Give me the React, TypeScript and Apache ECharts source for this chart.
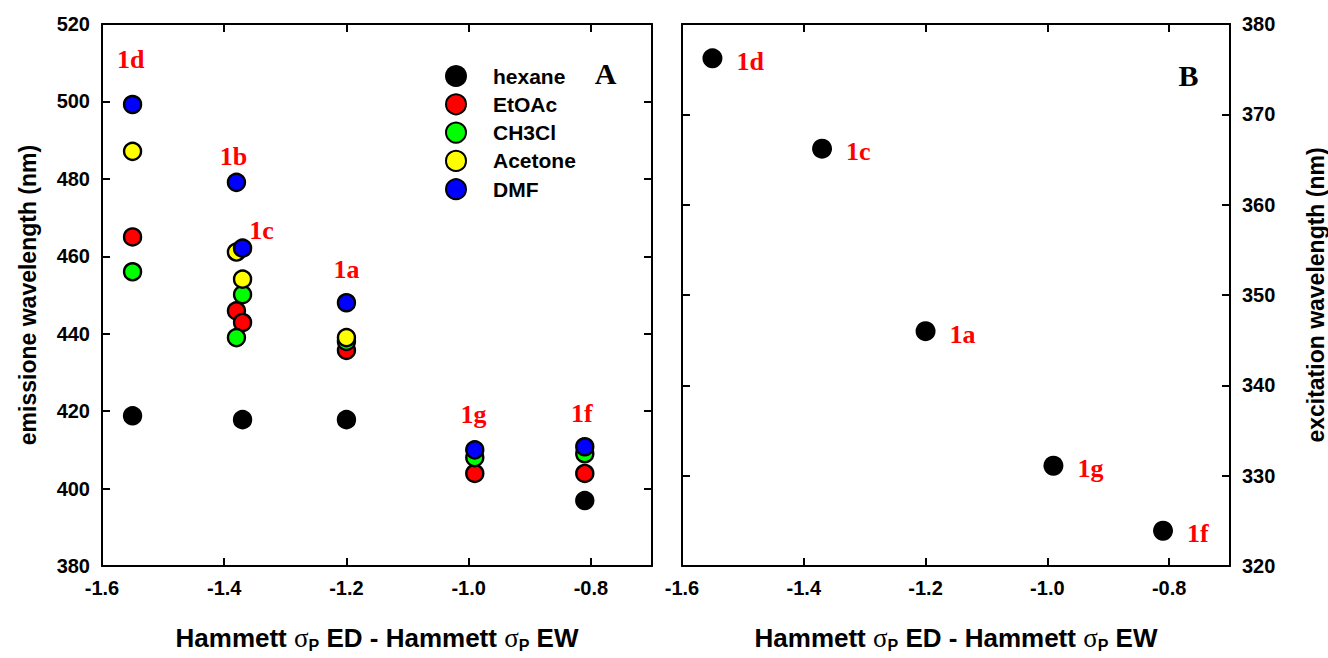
import React, { useEffect, useRef } from "react";
import * as echarts from "echarts";

// ---------- data ----------
const solventNames = ["hexane", "EtOAc", "CH3Cl", "Acetone", "DMF"];
const solventColors = ["#000000", "#ff0000", "#00ff00", "#ffff00", "#0000ff"];

// [Hammett difference, emission wavelength (nm)]
const hexane = [[-1.55, 418.8], [-1.37, 417.8], [-1.2, 417.8], [-0.81, 396.9]];
const etoac = [[-1.55, 465.0], [-1.38, 445.9], [-1.37, 442.9], [-1.2, 435.7], [-0.99, 403.9], [-0.81, 403.9]];
const ch3cl = [[-1.55, 456.0], [-1.38, 439.0], [-1.37, 450.1], [-1.2, 438.0], [-0.99, 408.0], [-0.81, 409.0]];
const acetone = [[-1.55, 487.1], [-1.38, 461.1], [-1.37, 454.1], [-1.2, 439.0]];
const dmf = [[-1.55, 499.2], [-1.38, 479.1], [-1.37, 462.1], [-1.2, 448.0], [-0.99, 410.0], [-0.81, 410.8]];
const emissionSeries = [hexane, etoac, ch3cl, acetone, dmf];

const compoundLabelsA = ["1d", "1b", "1c", "1a", "1g", "1f"];
const compoundLabelXA = [-1.553, -1.385, -1.339, -1.2, -0.992, -0.815];
const compoundLabelYA = [510.8, 485.9, 466.6, 456.5, 419.1, 419.3];

const excitationLabels = ["1d", "1c", "1a", "1g", "1f"];
const excitationX = [-1.55, -1.37, -1.2, -0.99, -0.81];
const excitationY = [376.2, 366.2, 346.0, 331.1, 323.9];

const xMin = -1.6, xMax = -0.7, xStep = 0.2;
const yAMin = 380, yAMax = 520, yAStep = 20;
const yBMin = 320, yBMax = 380, yBStep = 10;

const panelLetters = ["A", "B"];
const panelLetterPos = [[-0.776, 507.2], [-0.768, 374.3]];

const xTitle = "Hammett {s|σ}{p|P} ED - Hammett {s|σ}{p|P} EW";
const yTitleA = "emissione wavelength (nm)";
const yTitleB = "excitation wavelength (nm)";

// ---------- styles ----------
const SANS = "Liberation Sans, Arial, sans-serif";
const SERIF = "Liberation Serif, Times New Roman, serif";

const lineStyle = { color: "#000", width: 2 };
const tickStyle = { show: true, inside: true, length: 8, lineStyle: { color: "#000", width: 2 } };
const labelStyle = { color: "#000", fontSize: 20, fontWeight: "bold", fontFamily: SANS };

const xNameStyle = {
  color: "#000",
  fontSize: 26,
  fontWeight: "bold",
  fontFamily: SANS,
  rich: {
    s: { fontSize: 27, fontWeight: "normal", fontFamily: SERIF, color: "#000" },
    p: { fontSize: 16, fontWeight: "bold", fontFamily: SANS, color: "#000", padding: [15, 0, 0, 0] },
  },
};

function xAxisDef(gridIndex: number, position: "bottom" | "top", showLabel: boolean) {
  return {
    type: "value",
    gridIndex,
    position,
    min: xMin,
    max: xMax,
    interval: xStep,
    splitLine: { show: false },
    axisLine: { show: true, onZero: false, lineStyle },
    axisTick: tickStyle,
    axisLabel: {
      show: showLabel,
      margin: 12,
      showMaxLabel: false,
      formatter: (v: number) => v.toFixed(1),
      ...labelStyle,
    },
    name: showLabel ? xTitle : "",
    nameLocation: "middle",
    nameGap: 56,
    nameTextStyle: xNameStyle,
  };
}

function yAxisDef(
  gridIndex: number,
  position: "left" | "right",
  showLabel: boolean,
  min: number,
  max: number,
  step: number,
  title: string,
  nameGap: number
) {
  return {
    type: "value",
    gridIndex,
    position,
    min,
    max,
    interval: step,
    splitLine: { show: false },
    axisLine: { show: true, onZero: false, lineStyle },
    axisTick: tickStyle,
    axisLabel: { show: showLabel, margin: 12, ...labelStyle },
    name: showLabel ? title : "",
    nameLocation: "middle",
    nameRotate: 90,
    nameGap,
    nameTextStyle: { color: "#000", fontSize: 23, fontWeight: "bold", fontFamily: SANS },
  };
}

export default function App() {
  const ref = useRef<HTMLDivElement>(null);

  useEffect(() => {
    document.body.style.margin = "0";
    if (!ref.current) return;
    const chart = echarts.init(ref.current, null, { renderer: "svg" });

    const emission = emissionSeries.map((data, i) => ({
      type: "scatter",
      name: solventNames[i],
      xAxisIndex: 0,
      yAxisIndex: 0,
      data,
      symbol: "circle",
      symbolSize: 17,
      itemStyle: { color: solventColors[i], borderColor: "#000", borderWidth: 2.4, opacity: 1 },
      emphasis: { disabled: true },
      z: 2 + i,
    }));

    const redLabel = {
      color: "#ff0000",
      fontSize: 26,
      fontWeight: "bold",
      fontFamily: SERIF,
    };

    const labelSeriesA = {
      type: "scatter",
      xAxisIndex: 0,
      yAxisIndex: 0,
      symbolSize: 0,
      silent: true,
      itemStyle: { opacity: 1 },
      data: compoundLabelsA.map((n, i) => ({ name: n, value: [compoundLabelXA[i], compoundLabelYA[i]] })),
      label: {
        show: true,
        position: "inside",
        formatter: (p: any) => p.name,
        ...redLabel,
      },
      z: 10,
    };

    const excitation = {
      type: "scatter",
      xAxisIndex: 2,
      yAxisIndex: 2,
      symbol: "circle",
      symbolSize: 20,
      itemStyle: { color: "#000", opacity: 1 },
      emphasis: { disabled: true },
      data: excitationX.map((x, i) => ({ name: excitationLabels[i], value: [x, excitationY[i]] })),
      label: {
        show: true,
        position: "right",
        distance: 14,
        offset: [0, 3],
        formatter: (p: any) => p.name,
        ...redLabel,
      },
    };

    const letters = panelLetters.map((l, i) => ({
      type: "scatter",
      xAxisIndex: i === 0 ? 0 : 2,
      yAxisIndex: i === 0 ? 0 : 2,
      symbolSize: 0,
      silent: true,
      itemStyle: { opacity: 1 },
      data: [{ name: l, value: panelLetterPos[i] }],
      label: {
        show: true,
        position: "inside",
        formatter: (p: any) => p.name,
        color: "#000",
        fontSize: 30,
        fontWeight: "bold",
        fontFamily: SERIF,
      },
    }));

    chart.setOption({
      animation: false,
      backgroundColor: "#fff",
      grid: [
        { left: 102, right: 1328 - 652, top: 24, bottom: 658 - 569 },
        { left: 682, right: 1328 - 1230, top: 24, bottom: 658 - 569 },
      ],
      xAxis: [
        xAxisDef(0, "bottom", true),
        xAxisDef(0, "top", false),
        xAxisDef(1, "bottom", true),
        xAxisDef(1, "top", false),
      ],
      yAxis: [
        yAxisDef(0, "left", true, yAMin, yAMax, yAStep, yTitleA, 63),
        yAxisDef(0, "right", false, yAMin, yAMax, yAStep, "", 0),
        yAxisDef(1, "right", true, yBMin, yBMax, yBStep, yTitleB, 74),
        yAxisDef(1, "left", false, yBMin, yBMax, yBStep, "", 0),
      ],
      legend: {
        show: true,
        orient: "vertical",
        left: 440,
        top: 60,
        itemWidth: 64,
        itemHeight: 20,
        itemGap: 6.3,
        icon: "circle",
        selectedMode: false,
        data: solventNames,
        textStyle: { color: "#000", fontSize: 21, fontWeight: "bold", fontFamily: SANS, lineHeight: 20 },
      },
      series: [...emission, labelSeriesA, excitation, ...letters],
    });

    return () => chart.dispose();
  }, []);

  return <div ref={ref} style={{ width: 1328, height: 658 }} />;
}
